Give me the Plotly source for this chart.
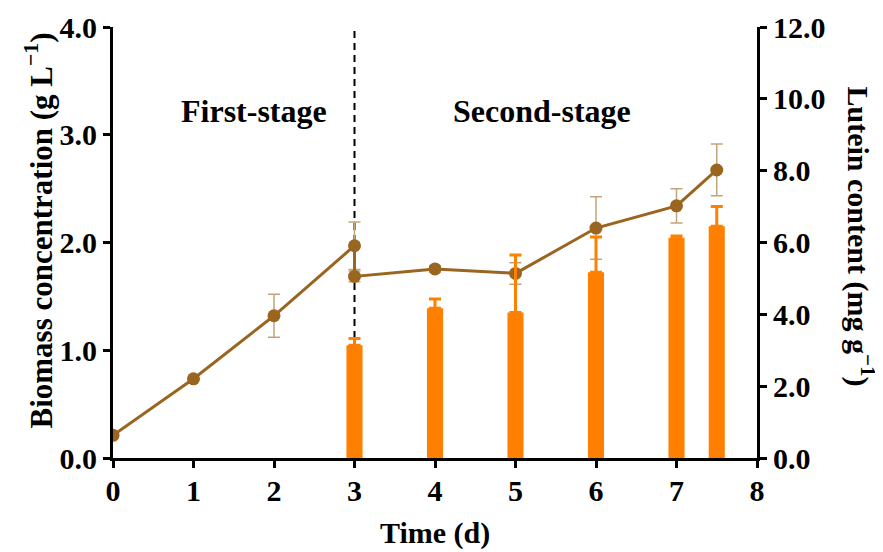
import plotly.graph_objects as go

# Biomass (left axis, g/L)
time_bio = [0, 1, 2, 3, 3, 4, 5, 6, 7, 7.5]
biomass = [0.21, 0.735, 1.32, 1.97, 1.685, 1.755, 1.713, 2.134, 2.34, 2.673]
biomass_err = [0.0, 0.0, 0.20, 0.22, 0.05, 0.03, 0.10, 0.29, 0.16, 0.24]

# Lutein (right axis, mg/g)
time_lut = [3, 4, 5, 6, 7, 7.5]
lutein = [3.14, 4.17, 4.05, 5.17, 6.13, 6.45]
lutein_err = [0.19, 0.26, 1.60, 0.98, 0.05, 0.55]

stage_boundary = 3
stage_labels = ["First-stage", "Second-stage"]
stage_label_x = [1.75, 5.33]
stage_label_y = 3.22

x_ticks = [0, 1, 2, 3, 4, 5, 6, 7, 8]
left_ticks = [0, 1, 2, 3, 4]
right_ticks = [0, 2, 4, 6, 8, 10, 12]

FONT = "Liberation Serif"
line_col = "#9A651F"
err_col = "#C2A47A"
bar_col = "#FF8000"

fig = go.Figure()

fig.add_trace(go.Bar(
    x=time_lut, y=lutein, yaxis="y2", width=0.2,
    marker=dict(color=bar_col, line=dict(width=0)),
    error_y=dict(type="data", array=lutein_err, arrayminus=[0]*len(lutein_err),
                 symmetric=False, color=bar_col, thickness=3, width=6),
    showlegend=False,
))

fig.add_trace(go.Scatter(
    x=time_bio, y=biomass, mode="lines+markers",
    line=dict(color=line_col, width=3),
    marker=dict(color=line_col, size=13),
    error_y=dict(type="data", array=biomass_err, color=err_col, thickness=1.5, width=6),
    showlegend=False,
))

fig.add_shape(type="line", x0=stage_boundary, x1=stage_boundary, y0=0, y1=4,
              xref="x", yref="y", line=dict(color="black", width=2, dash="7px,5px"),
              layer="below")

title_font = dict(family=FONT, size=31, color="black", weight="bold")

for lab, lx in zip(stage_labels, stage_label_x):
    fig.add_annotation(x=lx, y=stage_label_y, xref="x", yref="y", text=lab,
                       showarrow=False, font=dict(family=FONT, size=32, color="black", weight="bold"))

fig.add_annotation(x=0, y=0.5, xref="paper", yref="paper", xshift=-74, yshift=12,
                   xanchor="center", yanchor="middle",
                   text="Biomass concentration (g L<sup>\u22121</sup>)", textangle=-90,
                   showarrow=False, font=title_font)

fig.add_annotation(x=1.0, y=0.5, xref="paper", yref="paper", xshift=103, yshift=6,
                   xanchor="center", yanchor="middle",
                   text="Lutein content (mg g<sup>\u22121</sup>)", textangle=90,
                   showarrow=False, font=dict(family=FONT, size=30, color="black", weight="bold"))

fig.add_annotation(x=0.5, y=0, xref="paper", yref="paper", yshift=-75,
                   xanchor="center", yanchor="middle",
                   text="Time (d)", showarrow=False,
                   font=dict(family=FONT, size=30, color="black", weight="bold"))

axis_common = dict(showline=True, linecolor="black", linewidth=3, ticks="outside",
                   ticklen=7, tickwidth=2.5, tickcolor="black", showgrid=False, zeroline=False,
                   automargin=False,
                   tickfont=dict(family=FONT, size=30, color="black", weight="bold"))

fig.update_layout(
    width=875, height=544,
    margin=dict(l=105, r=126, t=19, b=94),
    plot_bgcolor="white", paper_bgcolor="white",
    barmode="overlay",
    xaxis=dict(range=[0, 8], tickvals=x_ticks, ticklabelstandoff=-3, **axis_common),
    yaxis=dict(range=[0, 4], tickvals=left_ticks, tickformat=".1f", **axis_common),
    yaxis2=dict(range=[0, 12], tickvals=right_ticks, tickformat=".1f", overlaying="y",
                side="right", **axis_common),
)

fig.write_html("out.html")
